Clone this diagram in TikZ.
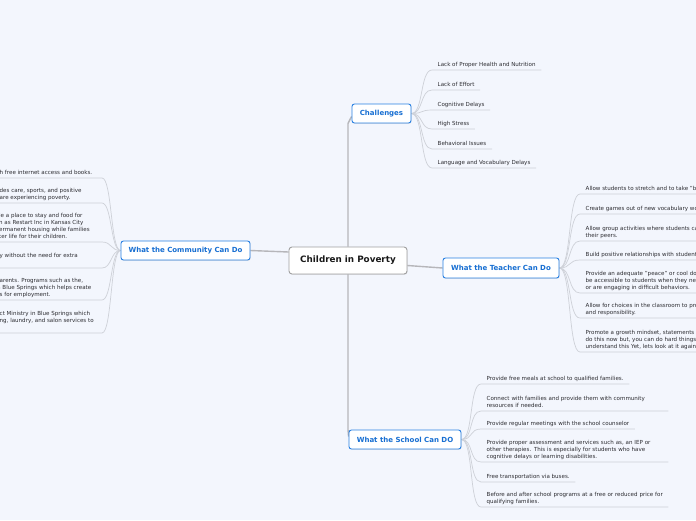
\documentclass[tikz,border=0pt]{standalone}
\usepackage{fontspec}
\setmainfont{DejaVu Sans}
\usetikzlibrary{shadows}
\pgfdeclarelayer{bgl}
\pgfdeclarelayer{lines}
\pgfsetlayers{bgl,lines,main}
\definecolor{bgc}{RGB}{243,246,253}
\definecolor{bluec}{RGB}{22,110,210}
\definecolor{blueb}{RGB}{40,128,226}
\definecolor{grayb}{RGB}{160,160,160}
\definecolor{trunkc}{RGB}{182,182,186}
\definecolor{twigc}{RGB}{206,209,216}
\definecolor{leafc}{RGB}{45,45,50}
\tikzset{
  topic/.style={draw=blueb, line width=0.9pt, fill=white, rounded corners=2.5pt, inner sep=0pt,
    text=bluec, font=\fontsize{7}{8}\selectfont\bfseries,
    drop shadow={opacity=0.18, shadow xshift=0.6pt, shadow yshift=-0.8pt}},
  centre/.style={draw=grayb, line width=0.9pt, fill=white, rounded corners=3pt, inner sep=0pt,
    text=black!90, font=\fontsize{8.8}{10}\selectfont\bfseries,
    drop shadow={opacity=0.18, shadow xshift=0.6pt, shadow yshift=-0.8pt}},
  trunk/.style={draw=trunkc, line width=1.4pt},
  twig/.style={draw=twigc, line width=0.7pt},
  leaf/.style={anchor=south west, inner xsep=5.5pt, inner ysep=1.6pt, align=left,
    font=\fontsize{5.55}{7}\selectfont, text=leafc, execute at end node=\strut},
  leafL/.style={anchor=south west, inner xsep=0pt, inner ysep=1.6pt, align=left,
    font=\fontsize{5.55}{7}\selectfont, text=leafc, execute at end node=\strut},
  wide/.style={text width=176pt},
}
\begin{document}
\begin{tikzpicture}[x=1pt,y=-1pt]
\useasboundingbox (0,0) rectangle (696,520);
\begin{pgfonlayer}{bgl}
\fill[bgc] (0,0) rectangle (696,520);
\end{pgfonlayer}
\clip (0,0) rectangle (696,520);

% main nodes
\node[centre, minimum width=118pt, minimum height=27pt] (cen) at (348,260.5) {Children in Poverty};
\node[topic, minimum width=59pt, minimum height=19pt] (ch) at (381.5,113.5) {Challenges};
\node[topic, minimum width=116pt, minimum height=20pt] (te) at (501,268) {What the Teacher Can Do};
\node[topic, minimum width=112pt, minimum height=19pt] (sc) at (405,439.5) {What the School Can DO};
\node[topic, minimum width=129pt, minimum height=19pt] (co) at (185.5,250.5) {What the Community Can Do};

% Challenges leaves
\node[leaf] (a1) at (432,70) {Lack of Proper Health and Nutrition};
\node[leaf] (a2) at (432,90) {Lack of Effort};
\node[leaf] (a3) at (432,110) {Cognitive Delays};
\node[leaf] (a4) at (432,129) {High Stress};
\node[leaf] (a5) at (432,149) {Behavioral Issues};
\node[leaf] (a6) at (432,168) {Language and Vocabulary Delays};

% Teacher leaves
\node[leaf] (t1) at (580,194) {Allow students to stretch and to take "brain breaks".};
\node[leaf] (t2) at (580,214) {Create games out of new vocabulary words.};
\node[leaf] (t3) at (580,241) {Allow group activities where students can work with\\their peers.};
\node[leaf] (t4) at (580,260) {Build positive relationships with students.};
\node[leaf] (t5) at (580,293) {Provide an adequate "peace" or cool down corner that can\\be accessible to students when they need a break\\or are engaging in difficult behaviors.};
\node[leaf] (t6) at (580,318) {Allow for choices in the classroom to promote ownership\\and responsibility.};
\node[leaf] (t7) at (580,352) {Promote a growth mindset, statements like: you can't\\do this now but, you can do hard things!\\understand this Yet, lets look at it again.};

% School leaves
\node[leaf] (s1) at (481,384) {Provide free meals at school to qualified families.};
\node[leaf, wide] (s2) at (481,411) {\mbox{Connect with families and provide them with community}\\resources if needed.};
\node[leaf] (s3) at (481,429) {Provide regular meetings with the school counselor};
\node[leaf, wide] (s4) at (481,462) {\mbox{Provide proper assessment and services such as, an IEP or}\\\mbox{other therapies. This is especially for students who have}\\cognitive delays or learning disabilities.};
\node[leaf] (s5) at (481,482) {Free transportation via buses.};
\node[leaf, wide] (s6) at (481,507) {\mbox{Before and after school programs at a free or reduced price for}\\qualifying families.};

% Community leaves (cut by the left edge)
\node[leafL] (c1) at (-0.5,178) {h free internet access and books.};
\node[leafL] (c2) at (-0.5,203) {des care, sports, and positive\\are experiencing poverty.};
\node[leafL] (c3) at (-1,242) {le a place to stay and food for\\h as Restart Inc in Kansas City\\ermanent housing while families\\ter life for their children.};
\node[leafL] (c4) at (-0.5,268) {y without the need for extra\\};
\node[leafL] (c5) at (-0.5,300) {arents. Programs such as the,\\\hspace*{-2.5pt}n Blue Springs which helps create\\s for employment.};
\node[leafL] (c6) at (-0.5,333) {ct Ministry in Blue Springs which\\ng, laundry, and salon services to\\};
\coordinate (k1) at (102,178);
\coordinate (k2) at (102,203);
\coordinate (k3) at (102,242);
\coordinate (k4) at (102,268);
\coordinate (k5) at (102,300);
\coordinate (k6) at (102,333);

\begin{pgfonlayer}{lines}
\draw[trunk] (cen.north) -- (cen.north |- ch.south) -- ([yshift=-3pt]ch.west);
\draw[trunk] (cen.south) -- (cen.south |- sc.north) -- ([yshift=3pt]sc.west);
\draw[trunk] ([yshift=-5pt]cen.east) -- (te.west);
\draw[trunk] ([yshift=8.5pt]cen.west) -- (co.east);
\foreach \n in {a1,a2,a3,a4,a5,a6}
  \draw[twig] (ch.east) .. controls +(12,0) and +(-12,0) .. (\n.south west) -- (\n.south east);
\foreach \n in {t1,t2,t3,t4,t5,t6,t7}
  \draw[twig] (te.east) .. controls +(12,0) and +(-12,0) .. (\n.south west) -- (\n.south east);
\foreach \n in {s1,s2,s3,s4,s5,s6}
  \draw[twig] (sc.east) .. controls +(12,0) and +(-12,0) .. (\n.south west) -- (\n.south east);
\foreach \i in {1,...,6}
  \draw[twig] (co.west) .. controls +(-10,0) and +(10,0) .. (k\i) -- (c\i.south west);
\end{pgfonlayer}
\end{tikzpicture}
\end{document}
